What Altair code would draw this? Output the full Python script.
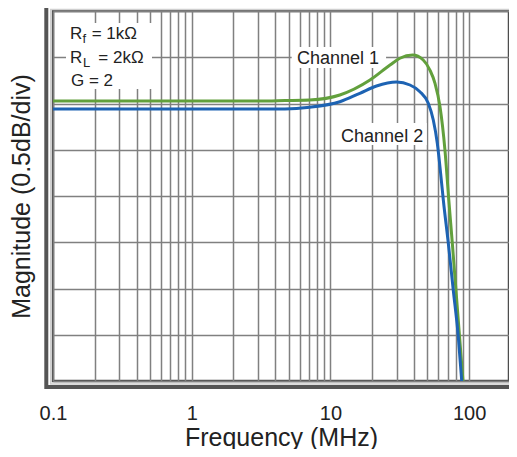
import altair as alt
import pandas as pd

# ---- data (frequency in MHz, magnitude in dB, 0.5 dB/div) ----
freq_ch1 = [0.1, 3.1, 4.7, 7.1, 11.7, 19.3, 26.9, 31.7, 39.2, 46.7, 52.2, 56.8, 61.7, 67.0, 71.4, 75.9, 80.4, 85.3, 90.4]
mag_ch1 = [0.027, 0.027, 0.032, 0.038, 0.092, 0.254, 0.416, 0.489, 0.524, 0.470, 0.362, 0.218, -0.035, -0.503, -1.043, -1.530, -2.016, -2.514, -3.0]

freq_ch2 = [0.1, 3.1, 4.7, 7.1, 11.7, 16.3, 21.5, 30.0, 37.5, 44.2, 50.8, 55.2, 59.0, 63.4, 65.2, 70.8, 76.9, 83.6, 88.5]
mag_ch2 = [-0.059, -0.059, -0.059, -0.041, 0.019, 0.110, 0.189, 0.232, 0.200, 0.128, 0.002, -0.178, -0.430, -0.863, -1.043, -1.508, -2.016, -2.521, -3.0]

x_grid = [0.1, 0.2, 0.3, 0.4, 0.5, 0.6, 0.7, 0.8, 0.9,
          1, 2, 3, 4, 5, 6, 7, 8, 9,
          10, 20, 30, 40, 50, 60, 70, 80, 90, 100]
x_labels = [0.1, 1, 10, 100]
y_grid = [-3, -2.5, -2, -1.5, -1, -0.5, 0, 0.5, 1]

x_domain = [0.1, 194]
y_domain = [-3, 1]

# annotation texts (placed in data coordinates)
param_text = ["R", "f", "= 1kΩ", "R", "L", "= 2kΩ", "G = 2"]
param_f = [0.1327, 0.1632, 0.190, 0.1327, 0.1645, 0.2121, 0.1348]
param_db = [0.694, 0.654, 0.694, 0.435, 0.395, 0.435, 0.189]
param_size = [17, 13, 17, 17, 13, 17, 17]

chan_text = ["Channel 1", "Channel 2"]
chan_f = [11.35, 23.6]
chan_db = [0.427, -0.413]

box_f = [0.1241, 5.26, 11.1]
box_f2 = [0.5173, 25.2, 49.5]
box_db = [0.870, 0.611, -0.211]
box_db2 = [0.157, 0.384, -0.449]

FONT = "Liberation Sans"
GREEN = "#62a03c"
BLUE = "#1d63b3"
TXT = "#222222"
GRID = "#808080"

xs = alt.Scale(type="log", domain=x_domain, nice=False)
ys = alt.Scale(domain=y_domain, nice=False, zero=False)

label_expr = "indexof([" + ",".join(str(v) for v in x_labels) + "], datum.value) >= 0 ? datum.label : ''"

x_axis = alt.Axis(
    values=x_grid, format="~g", labelExpr=label_expr, labelOverlap=False, labelFlush=False,
    grid=True, gridColor=GRID, gridWidth=1.5,
    ticks=False, tickSize=0, domain=False,
    labelPadding=22, labelFont=FONT, labelFontSize=20, labelColor=TXT,
    title="Frequency (MHz)", titleFont=FONT, titleFontSize=25, titleFontWeight="normal",
    titleColor=TXT, titleX=228, titleY=64, titleAlign="center", titleBaseline="alphabetic",
)
y_axis = alt.Axis(
    values=y_grid, labels=False, ticks=False, tickSize=0, domain=False,
    grid=True, gridColor=GRID, gridWidth=1.5,
    title="Magnitude (0.5dB/div)", titleFont=FONT, titleFontSize=25, titleFontWeight="normal",
    titleColor=TXT, titleX=-24, titleY=185, titleAngle=270, titleAlign="center",
    titleBaseline="alphabetic",
)


def X(field="f:Q"):
    return alt.X(field, scale=xs, axis=x_axis)


def Y(field="db:Q"):
    return alt.Y(field, scale=ys, axis=y_axis)


df1 = pd.DataFrame({"f": freq_ch1, "db": mag_ch1})
df2 = pd.DataFrame({"f": freq_ch2, "db": mag_ch2})
boxes = pd.DataFrame({"f": box_f, "f2": box_f2, "db": box_db, "db2": box_db2})
params = pd.DataFrame({"f": param_f, "db": param_db, "t": param_text, "s": param_size})
chans = pd.DataFrame({"f": chan_f, "db": chan_db, "t": chan_text})

one = alt.Data(values=[{"k": 1}])

outer = alt.Chart(one).mark_rect(filled=False, stroke="#555555", strokeWidth=4).encode(
    x=alt.value(-6.7), x2=alt.value(462.5), y=alt.value(-5.7), y2=alt.value(376)
)
shadow = alt.Chart(one).mark_rect(filled=False, stroke="#cfcfcf", strokeWidth=1.5).encode(
    x=alt.value(-2.3), x2=alt.value(458.7), y=alt.value(-1.5), y2=alt.value(373)
)

box_layer = alt.Chart(boxes).mark_rect(fill="white", strokeWidth=0).encode(
    x=X(), x2="f2:Q", y=Y(), y2="db2:Q",
)

line1 = alt.Chart(df1).mark_line(color=GREEN, strokeWidth=3, interpolate="monotone").encode(
    x=X(), y=Y(),
)
line2 = alt.Chart(df2).mark_line(color=BLUE, strokeWidth=3, interpolate="monotone").encode(
    x=X(), y=Y(),
)

param_layer = alt.Chart(params).mark_text(
    align="left", baseline="alphabetic", font=FONT, color=TXT
).encode(
    x=X(), y=Y(),
    text="t:N",
    size=alt.Size("s:Q", scale=None, legend=None),
)

chan_layer = alt.Chart(chans).mark_text(
    align="center", baseline="alphabetic", font=FONT, fontSize=18, color=TXT
).encode(
    x=X(), y=Y(),
    text="t:N",
)

chart = alt.layer(
    box_layer, line1, line2, param_layer, chan_layer, shadow, outer
).properties(
    width=456, height=370,
    autosize=alt.AutoSizeParams(type="none"),
    padding={"left": 45, "top": 3, "right": 0, "bottom": 68},
    background="white",
).configure_view(
    stroke="#4d4d4d", strokeWidth=2.5
)

chart.save("out.html", embed_options={"renderer": "svg", "actions": False})
